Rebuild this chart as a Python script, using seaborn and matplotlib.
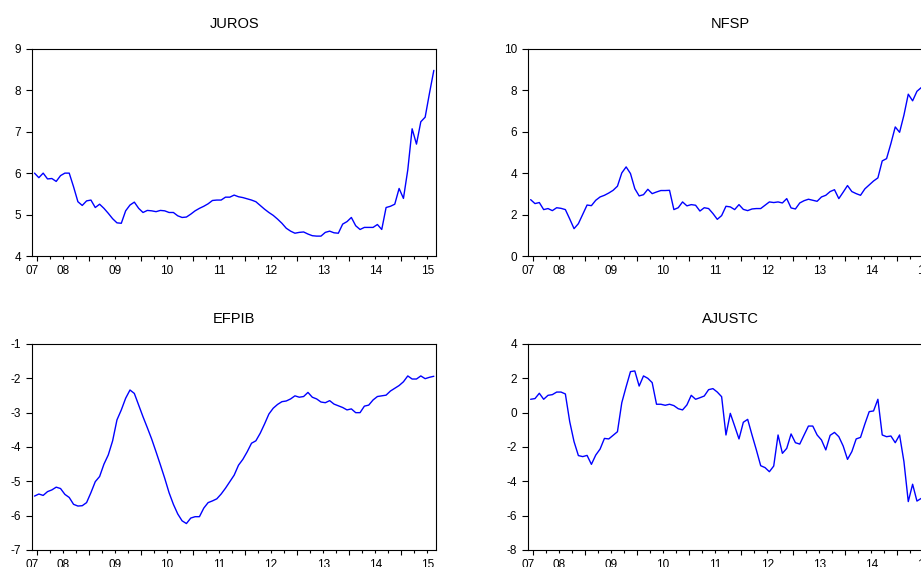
import numpy as np
import pandas as pd
import matplotlib
matplotlib.use('Agg')
import matplotlib.pyplot as plt
import seaborn as sns

# --- DATA (monthly, 2007M12 .. 2015M08) ---
year_labels = ['07', '08', '09', '10', '11', '12', '13', '14', '15']

juros = [6.00, 5.89, 6.00, 5.86, 5.87, 5.80, 5.94, 6.00, 6.00, 5.67,
         5.31, 5.22, 5.33, 5.35, 5.17, 5.25, 5.15, 5.03, 4.90, 4.80,
         4.79, 5.09, 5.23, 5.30, 5.15, 5.05, 5.10, 5.09, 5.07, 5.10,
         5.09, 5.05, 5.05, 4.97, 4.93, 4.94, 5.01, 5.09, 5.15, 5.20,
         5.26, 5.34, 5.35, 5.35, 5.42, 5.42, 5.47, 5.43, 5.41, 5.38,
         5.35, 5.31, 5.22, 5.13, 5.05, 4.98, 4.89, 4.79, 4.67, 4.60,
         4.55, 4.57, 4.58, 4.53, 4.49, 4.48, 4.48, 4.57, 4.60, 4.56,
         4.55, 4.77, 4.83, 4.93, 4.73, 4.64, 4.69, 4.69, 4.69, 4.76,
         4.64, 5.17, 5.20, 5.25, 5.63, 5.39, 6.08, 7.07, 6.70, 7.24,
         7.35, 7.93, 8.48]

nfsp = [2.72, 2.53, 2.58, 2.24, 2.29, 2.19, 2.33, 2.30, 2.24, 1.79,
        1.32, 1.56, 2.01, 2.46, 2.43, 2.69, 2.85, 2.93, 3.04, 3.17,
        3.37, 4.01, 4.30, 3.98, 3.25, 2.90, 2.96, 3.22, 3.01, 3.09,
        3.16, 3.16, 3.17, 2.24, 2.33, 2.61, 2.42, 2.48, 2.45, 2.17,
        2.33, 2.29, 2.05, 1.77, 1.95, 2.40, 2.37, 2.24, 2.48, 2.25,
        2.19, 2.27, 2.29, 2.29, 2.45, 2.61, 2.58, 2.61, 2.56, 2.77,
        2.32, 2.27, 2.56, 2.67, 2.74, 2.69, 2.64, 2.85, 2.93, 3.11,
        3.20, 2.77, 3.08, 3.40, 3.11, 3.01, 2.93, 3.24, 3.43, 3.62,
        3.77, 4.59, 4.70, 5.43, 6.23, 5.97, 6.80, 7.81, 7.49, 7.95,
        8.13, 8.30, 8.50]

efpib = [-5.43, -5.37, -5.41, -5.30, -5.25, -5.17, -5.21, -5.38, -5.47, -5.67,
         -5.72, -5.71, -5.62, -5.33, -5.01, -4.86, -4.50, -4.23, -3.82, -3.21,
         -2.92, -2.58, -2.34, -2.44, -2.78, -3.12, -3.44, -3.77, -4.14, -4.52,
         -4.91, -5.33, -5.67, -5.95, -6.15, -6.23, -6.07, -6.03, -6.03, -5.78,
         -5.62, -5.57, -5.51, -5.37, -5.20, -5.01, -4.82, -4.53, -4.36, -4.14,
         -3.89, -3.82, -3.60, -3.33, -3.04, -2.87, -2.76, -2.68, -2.66, -2.60,
         -2.51, -2.55, -2.53, -2.41, -2.55, -2.60, -2.69, -2.71, -2.65, -2.75,
         -2.80, -2.85, -2.92, -2.89, -3.00, -3.00, -2.81, -2.78, -2.63, -2.53,
         -2.51, -2.49, -2.37, -2.29, -2.21, -2.10, -1.93, -2.02, -2.02, -1.93,
         -2.01, -1.97, -1.94]

ajustc = [0.78, 0.82, 1.13, 0.78, 1.01, 1.05, 1.20, 1.20, 1.09, -0.52,
          -1.69, -2.50, -2.56, -2.49, -3.01, -2.47, -2.12, -1.50, -1.53, -1.32,
          -1.11, 0.58, 1.51, 2.39, 2.43, 1.55, 2.14, 2.00, 1.75, 0.49,
          0.49, 0.43, 0.49, 0.41, 0.23, 0.16, 0.45, 1.01, 0.78, 0.87,
          0.97, 1.34, 1.40, 1.20, 0.93, -1.30, -0.04, -0.78, -1.53, -0.56,
          -0.39, -1.30, -2.17, -3.09, -3.20, -3.44, -3.11, -1.30, -2.37, -2.08,
          -1.24, -1.75, -1.83, -1.30, -0.78, -0.78, -1.30, -1.59, -2.17, -1.32,
          -1.15, -1.40, -1.94, -2.72, -2.27, -1.53, -1.44, -0.66, 0.06, 0.10,
          0.78, -1.30, -1.40, -1.36, -1.75, -1.30, -2.85, -5.18, -4.17, -5.15,
          -4.99, -5.00, -4.90]

series = {'JUROS': juros, 'NFSP': nfsp, 'EFPIB': efpib, 'AJUSTC': ajustc}

# --- STYLE ---
sns.set_style('ticks')
plt.rcParams['font.family'] = ['Liberation Sans', 'DejaVu Sans']
plt.rcParams['axes.unicode_minus'] = False
plt.rcParams['text.color'] = 'black'
plt.rcParams['xtick.color'] = 'black'
plt.rcParams['ytick.color'] = 'black'
plt.rcParams['axes.titlecolor'] = 'black'

n_obs = len(juros)
obs = np.arange(n_obs)

# tick layout: year boundaries (long), quarter boundaries (short), labels mid-year
year_bounds = np.arange(0.5, n_obs, 12)
quarter_bounds = np.arange(0.5, n_obs, 3)
label_pos = [-0.5] + [12 * k + 6.5 for k in range(len(year_labels) - 1)]

# name, y-range, y-step, axes rect (fig fractions)
panels = [
    ('JUROS', (4, 9), 1, [0.0351, 0.5485, 0.4383, 0.3654]),
    ('NFSP', (0, 10), 2, [0.5738, 0.5485, 0.4383, 0.3654]),
    ('EFPIB', (-7, -1), 1, [0.0351, 0.0300, 0.4383, 0.3633]),
    ('AJUSTC', (-8, 4), 2, [0.5738, 0.0300, 0.4383, 0.3633]),
]

fig = plt.figure(figsize=(9.21, 5.67), dpi=100)

for name, (lo, hi), step, rect in panels:
    ax = fig.add_axes(rect)
    df = pd.DataFrame({'obs': obs, 'value': series[name]})
    sns.lineplot(data=df, x='obs', y='value', ax=ax, color='#0000FF', linewidth=1.0)

    ax.set_xlim(-0.5, n_obs - 0.5)
    ax.set_ylim(lo, hi)
    ax.set_yticks(np.arange(lo, hi + step / 2, step))
    ax.set_xticks(year_bounds)
    ax.set_xticks(quarter_bounds, minor=True)
    ax.tick_params(axis='x', which='major', length=3.6, width=0.8, labelbottom=False)
    ax.tick_params(axis='x', which='minor', length=2.2, width=0.8)
    ax.tick_params(axis='y', length=4.1, width=0.8, pad=4.0, labelsize=8.5)
    ax.set_xlabel('')
    ax.set_ylabel('')
    for sp in ax.spines.values():
        sp.set_color('black')
        sp.set_linewidth(0.8)

    # year labels sit between the boundary ticks
    sec = ax.secondary_xaxis('bottom')
    sec.set_xticks(label_pos, labels=year_labels)
    sec.tick_params(length=0, pad=6.5, labelsize=8.5)
    sec.spines['bottom'].set_visible(False)

    ax.set_title(name, fontsize=10.5, pad=14.8)

fig.savefig('out.png', dpi=100)
